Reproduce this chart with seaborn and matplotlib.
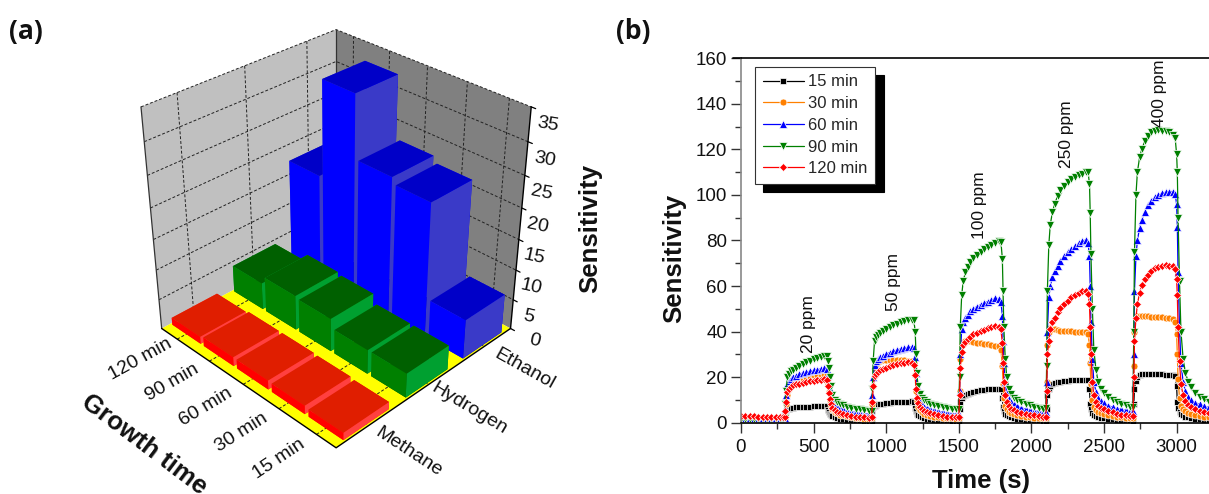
import matplotlib
matplotlib.use('Agg')
import matplotlib.pyplot as plt
import pandas as pd
import seaborn as sns
from mpl_toolkits.mplot3d.art3d import Poly3DCollection

# panel (a) values
growth = ['120 min', '90 min', '60 min', '30 min', '15 min']
gases = ['Methane', 'Hydrogen', 'Ethanol']
methane = [1.2, 1.5, 1.5, 1.4, 1.2]
hydrogen = [4.5, 5.8, 5.5, 4.0, 4.0]
ethanol = [17.5, 33.0, 23.0, 22.0, 6.5]
z_ticks = [0, 5, 10, 15, 20, 25, 30, 35]

# panel (b) values
labels = ['15 min', '30 min', '60 min', '90 min', '120 min']
base_time = [0, 30, 60, 90, 120, 150, 180, 210, 240, 270, 290]
pulse_starts = [300, 900, 1500, 2100, 2700]
offsets = [0, 5, 10, 20, 30, 45, 60, 80, 100, 125, 150, 175, 200, 225, 250, 275, 290,
           300, 305, 310, 320, 330, 345, 360, 380, 400, 430, 460, 490, 520, 550, 580]

s15 = [1.2, 1.2, 1.1, 1.1, 1.1, 1.0, 1.0, 1.0, 1.0, 1.0, 1.0,
       1, 3.5, 5, 5.8, 6.2, 6.4, 6.6, 6.8, 6.9, 7, 7.1, 7.1, 7.2, 7.2, 7.3, 7.3, 7.3,
       5.5, 4.5, 3.8, 3.2, 2.8, 2.4, 2.1, 1.8, 1.6, 1.4, 1.2, 1.1, 1, 0.9, 0.8,
       .8, 5, 6.8, 7.5, 7.8, 8, 8.2, 8.4, 8.6, 8.8, 8.9, 9, 9.1, 9.2, 9.3, 9.4, 9.3,
       6.5, 5, 4, 3.3, 2.8, 2.4, 2.1, 1.8, 1.6, 1.4, 1.2, 1.1, 1, .9, .8,
       .8, 6, 9, 10.8, 11.8, 12.3, 12.8, 13.2, 13.6, 14, 14.2, 14.4, 14.6, 14.7, 14.8, 14.9, 14.9,
       11, 7, 5.2, 4, 3.3, 2.8, 2.4, 2.1, 1.8, 1.6, 1.4, 1.2, 1.1, 1, .9,
       .8, 6, 12, 15, 16, 16.8, 17.3, 17.7, 18, 18.3, 18.5, 18.6, 18.7, 18.8, 18.9, 18.9, 18.8,
       15, 8, 5.8, 4.4, 3.6, 3, 2.6, 2.2, 1.9, 1.7, 1.5, 1.3, 1.2, 1.1, 1,
       .8, 8, 15, 18.5, 20, 20.8, 21.2, 21.4, 21.5, 21.5, 21.4, 21.3, 21.2, 21.1, 21, 21, 20.7,
       16, 9, 6.5, 4.8, 3.8, 3.2, 2.7, 2.3, 2, 1.8, 1.6, 1.4, 1.3, 1.2, 1]

s30 = [2.0, 2.0, 1.9, 1.9, 1.8, 1.8, 1.8, 1.7, 1.7, 1.7, 1.6,
       1.5, 4, 8, 12, 15, 16.5, 17.5, 18.3, 19, 19.5, 20, 20.4, 20.8, 21, 21.2, 21.2, 20.8,
       17, 13.5, 10, 7.5, 5.8, 4.8, 4.1, 3.6, 3.2, 2.8, 2.5, 2.2, 2, 1.8, 1.7,
       2, 8, 16, 23, 25.5, 26.5, 27, 27.4, 27.6, 27.7, 27.7, 27.6, 27.5, 27.4, 27.2, 27, 26.2,
       21, 14, 9.5, 7, 5.5, 4.6, 4, 3.5, 3.1, 2.7, 2.4, 2.2, 2, 1.9, 1.8,
       2, 14, 28, 34, 35.5, 36, 36, 35.8, 35.5, 35.2, 35, 34.7, 34.4, 34.1, 33.8, 33.5, 32,
       25, 17, 11, 7.5, 5.8, 4.8, 4.2, 3.7, 3.3, 2.9, 2.6, 2.4, 2.2, 2, 1.9,
       2, 18, 34, 40, 41.5, 41.3, 41, 40.7, 40.4, 40.3, 40.2, 40.1, 40, 40, 40, 39.9, 39,
       34, 26, 17, 10, 7, 5.5, 4.8, 4.2, 3.7, 3.2, 2.9, 2.6, 2.4, 2.2, 2,
       2, 25, 40, 46, 47, 47, 46.9, 46.8, 46.7, 46.5, 46.4, 46.3, 46.2, 46, 45.8, 45.5, 44,
       39, 30, 19, 11, 7.5, 6, 5, 4.4, 3.9, 3.4, 3, 2.7, 2.5, 2.3, 2.1]

s60 = [2.2, 2.2, 2.1, 2.1, 2.0, 2.0, 2.0, 1.9, 1.9, 1.9, 1.9,
       2, 6, 12, 17, 18.5, 19.3, 20, 20.7, 21.2, 21.8, 22.2, 22.6, 23, 23.3, 23.6, 23.8, 23.5,
       21, 18, 15, 12, 9.5, 8, 7, 6.3, 5.8, 5.2, 4.8, 4.5, 4.2, 4, 3.8,
       4, 12, 20, 25.5, 27, 28, 28.8, 29.5, 30.2, 30.8, 31.4, 31.9, 32.4, 32.8, 33.1, 33.2, 33,
       29, 22, 16, 12, 9.5, 8, 7, 6.5, 6, 5.4, 5, 4.6, 4.3, 4, 3.8,
       4, 14, 30, 41, 44, 46, 47.5, 49, 50, 51, 51.8, 52.5, 53.2, 54, 54.6, 54.5, 53,
       47, 36, 26, 18, 13, 10.5, 9, 8, 7.3, 6.5, 6, 5.6, 5.2, 4.9, 4.6,
       4.5, 18, 40, 55, 60, 64, 66.5, 69, 71, 73, 74.8, 76.2, 77.5, 78.8, 79.8, 80.2, 79,
       73, 60, 44, 28, 18, 13.5, 11, 9.5, 8.5, 7.5, 6.8, 6.2, 5.8, 5.4, 5,
       5, 30, 58, 73, 80, 85.5, 89, 92.5, 95.5, 97.5, 99, 100, 100.8, 101.2, 101.5, 101.5, 100.5,
       96, 86, 66, 42, 26, 18, 14, 11.5, 10, 8.8, 8, 7.3, 6.7, 6.2, 5.8]

s90 = [1.8, 1.8, 1.7, 1.7, 1.6, 1.6, 1.6, 1.5, 1.5, 1.5, 1.5,
       2, 8, 14, 20, 21.5, 22.5, 23.3, 24.2, 25, 25.8, 26.6, 27.2, 27.8, 28.3, 28.8, 29.1, 29.1,
       27, 24, 20, 16, 12, 10, 9, 8.2, 7.6, 7, 6.6, 6.2, 5.8, 5.5, 5.3,
       5, 15, 27, 36, 37.5, 38.5, 39.3, 40.3, 41.2, 42, 42.8, 43.5, 44, 44.6, 45, 45.2, 45,
       40, 30, 22, 16, 12.5, 11, 10, 9, 8.4, 7.7, 7.2, 6.8, 6.4, 6, 5.8,
       6, 20, 42, 56, 62, 66, 68.5, 70.5, 72.3, 73.8, 75, 76.2, 77.2, 78.2, 79, 79.8, 79.5,
       72, 58, 42, 28, 20, 15, 12.5, 11, 10, 9, 8.2, 7.6, 7, 6.6, 6.2,
       6.5, 25, 58, 78, 87, 92.5, 96, 99.5, 102, 104, 105.5, 106.8, 107.8, 108.6, 109.3, 110, 110,
       105, 92, 74, 50, 32, 23, 18, 15, 13, 11.3, 10, 9, 8.2, 7.6, 7,
       7, 40, 75, 100, 110, 116.5, 120, 123.5, 126, 127.5, 128.2, 128.3, 128.2, 128, 127.5, 126.5, 125,
       118, 110, 90, 62, 40, 28, 22, 18, 15.5, 13, 11.5, 10.2, 9.2, 8.4, 7.8]

s120 = [3.0, 2.9, 2.8, 2.8, 2.7, 2.7, 2.6, 2.6, 2.5, 2.5, 2.5,
        2.5, 5, 9, 13.5, 15, 15.8, 16.4, 16.8, 17.2, 17.6, 17.9, 18.2, 18.5, 18.7, 18.9, 19, 18.8,
        16, 13, 10.5, 8, 6.5, 5.5, 4.8, 4.2, 3.8, 3.4, 3, 2.7, 2.5, 2.3, 2.1,
        2.5, 9, 16, 20.5, 21.5, 22.3, 23, 23.6, 24.2, 24.8, 25.2, 25.7, 26.1, 26.4, 26.5, 26.3, 25.5,
        21, 15, 11, 8.5, 7, 6, 5.3, 4.7, 4.2, 3.7, 3.3, 3, 2.7, 2.5, 2.3,
        2.5, 12, 24, 31, 34, 35.5, 36.8, 37.8, 38.8, 39.6, 40.3, 40.9, 41.4, 42, 42.3, 42.2, 41,
        35, 26, 18, 12, 9, 7.2, 6.2, 5.5, 4.9, 4.3, 3.9, 3.5, 3.2, 2.9, 2.7,
        2.5, 14, 30, 36, 41, 44, 46, 48.5, 50.5, 52, 53.5, 55, 56, 57, 57.8, 58, 56.5,
        52, 42, 30, 18, 12, 9, 7.5, 6.5, 5.8, 5, 4.5, 4, 3.6, 3.3, 3,
        3, 20, 36, 46, 52, 57, 60.5, 63, 65, 66.5, 67.8, 68.5, 69, 69.2, 69, 68.7, 67.5,
        63, 56, 42, 27, 17, 12, 9.5, 7.8, 6.8, 5.8, 5.2, 4.6, 4.2, 3.9, 3.6]

ppm_labels = ['20 ppm', '50 ppm', '100 ppm', '250 ppm', '400 ppm']
ppm_x = [468, 1047, 1646, 2245, 2879]
ppm_y = [43.4, 61.8, 95.6, 126.8, 144.5]

sns.set_theme(style='white')
plt.rcParams['font.family'] = ['Liberation Sans', 'DejaVu Sans']

fig = plt.figure(figsize=(12.09, 4.94), dpi=100)
W, H = 1209, 494

# ---- panel (a): 3D bars
ax3 = fig.add_axes([28 / W, 1 - 532 / H, 600 / W, 600 / H], projection='3d', computed_zorder=False)
ax3.set_axis_off()
ax3.patch.set_alpha(0)
ax3.set_xlim(0, 5)
ax3.set_ylim(0, 3)
ztop = 35
ax3.set_zlim(0, ztop)
ax3.set_proj_type('persp', focal_length=0.38)
ax3.view_init(elev=32, azim=-45)
ax3.set_box_aspect((1, 1, 1.0), zoom=0.73)

walls = [
    ([[0, 0, 0], [0, 3, 0], [0, 3, ztop], [0, 0, ztop]], '#c0c0c0'),
    ([[0, 3, 0], [5, 3, 0], [5, 3, ztop], [0, 3, ztop]], '#808080'),
    ([[0, 0, 0], [5, 0, 0], [5, 3, 0], [0, 3, 0]], '#ffff00'),
]
for verts, col in walls:
    pc = Poly3DCollection([verts], facecolors=col, edgecolors='none', zorder=1)
    ax3.add_collection3d(pc, autolim=False)

grid_kw = dict(color='#222222', lw=0.7, ls=(0, (3, 2)), zorder=2)
for z in z_ticks[1:]:
    ax3.plot([0, 0, 5], [0, 3, 3], [z, z, z], **grid_kw)
for i in range(5):
    ax3.plot([i + .5, i + .5, i + .5], [0, 3, 3], [0, 0, ztop], **grid_kw)
for j in range(3):
    ax3.plot([0, 0, 5], [j + .5, j + .5, j + .5], [ztop, 0, 0], **grid_kw)

edge_kw = dict(color='#333333', lw=0.9, zorder=2)
ax3.plot([0, 0], [0, 0], [0, ztop], **edge_kw)
ax3.plot([0, 0], [3, 3], [0, ztop], **edge_kw)
ax3.plot([5, 5], [3, 3], [0, ztop], color='black', lw=1.0, zorder=2)
ax3.plot([0, 5, 5], [0, 0, 3], [0, 0, 0], color='black', lw=1.0, zorder=2)
for z in z_ticks:
    ax3.plot([5, 5.1], [3, 3], [z, z], color='black', lw=0.9, zorder=2)

faces = {
    'Methane': ['#ff2000', '#e01e00', '#ff0000', '#ff0000', '#ff4040', '#ff4040'],
    'Hydrogen': ['#006000', '#006000', '#008000', '#008000', '#00a030', '#00a030'],
    'Ethanol': ['#0000c8', '#0000c8', '#0000ff', '#0000ff', '#3a3ac8', '#3a3ac8'],
}
rows = [(2, 'Ethanol', ethanol), (1, 'Hydrogen', hydrogen), (0, 'Methane', methane)]
order = 3
for j, name, vals in rows:
    for i, v in enumerate(vals):
        ax3.bar3d(i + .05, j + .14, 0, .9, .72, v, color=faces[name], shade=False, zorder=order,
                  edgecolor='none', linewidth=0)
        order += 1

for i, lab in enumerate(growth):
    ax3.text(i + .5, -0.55, 0, lab, zdir=(0, 1, 0), ha='center', va='center', fontsize=14, color='#111111', zorder=40)
for j, lab in enumerate(gases):
    ax3.text(6.0, j + .5, 0, lab, zdir=(1, 0, 0), ha='center', va='center', fontsize=14, color='#111111', zorder=40)
for z in z_ticks:
    # the zero label sits lower along the floor edge, the others just below their tick
    if z == 0:
        ax3.text(5.6, 3, 0, '0', zdir=(1, 0.25, 0), ha='center', va='center', fontsize=14, color='#111111', zorder=40)
    else:
        ax3.text(5.4, 3, z - 1.5, str(z), zdir=(1, 0.25, 0), ha='center', va='center', fontsize=14, color='#111111', zorder=40)

fig.text(144 / W, 1 - 445 / H, 'Growth time', rotation=-37, ha='center', va='center', fontsize=18.5, fontweight='bold', color='#111111')
fig.text(590 / W, 1 - 228 / H, 'Sensitivity', rotation=90, ha='center', va='center', fontsize=18.5, fontweight='bold', color='#111111')
fig.text(9 / W, 1 - 31 / H, '(a)', ha='left', va='center', fontsize=19, fontweight='bold', family='Open Sans', color='#111111')
fig.text(616 / W, 1 - 31 / H, '(b)', ha='left', va='center', fontsize=19, fontweight='bold', family='Open Sans', color='#111111')

# ---- panel (b): response curves
time = base_time + [s + o for s in pulse_starts for o in offsets]
df = pd.DataFrame({
    'time': time * 5,
    'value': s15 + s30 + s60 + s90 + s120,
    'series': [lab for lab in labels for _ in time],
})
palette = dict(zip(labels, ['black', '#ff8000', '#0000ff', '#008000', '#ff0000']))
marks = dict(zip(labels, ['s', 'o', '^', 'v', 'D']))

x0, x1 = 741, 1209
y0, y1 = 422.7, 58.3
ax = fig.add_axes([x0 / W, 1 - y0 / H, (x1 - x0) / W, (y0 - y1) / H])
sns.lineplot(data=df, x='time', y='value', hue='series', style='series', hue_order=labels, style_order=labels,
             palette=palette, markers=marks, dashes=False, estimator=None, sort=False,
             lw=0.9, markersize=5, markeredgewidth=0.5, ax=ax)
sizes = {'s': 4, 'o': 5, '^': 6, 'v': 6, 'D': 4.5}
for line in ax.lines:
    if line.get_marker() in sizes:
        line.set_markersize(sizes[line.get_marker()])
ax.set_xlim(0, (x1 - x0) / 72.6 * 500)
ax.set_ylim(0, 160)
ax.set_xticks([0, 500, 1000, 1500, 2000, 2500, 3000])
ax.set_xticks([250, 750, 1250, 1750, 2250, 2750], minor=True)
ax.set_yticks(range(0, 161, 20))
ax.set_yticks(range(10, 160, 20), minor=True)
ax.tick_params(axis='both', which='major', direction='out', length=7, width=1, labelsize=13.5, color='#333333',
               left=True, bottom=True, pad=3, labelcolor='#111111')
ax.tick_params(axis='x', which='major', pad=5)
ax.tick_params(axis='both', which='minor', direction='out', length=4, width=1, color='#333333', left=True, bottom=True)
ax.spines['right'].set_visible(False)
ax.spines['left'].set_color('#888888')
ax.spines['left'].set_linewidth(1.2)
ax.spines['bottom'].set_color('black')
ax.spines['bottom'].set_linewidth(1.2)
ax.spines['top'].set_color('black')
ax.spines['top'].set_linewidth(1.2)
ax.plot([-0.018, 0], [1, 1], transform=ax.transAxes, color='black', lw=1.2, clip_on=False)
ax.set_xlabel('Time (s)', fontsize=18.5, fontweight='bold', labelpad=9, color='#111111', x=0.513)
ax.set_ylabel('Sensitivity', fontsize=18.5, fontweight='bold', labelpad=7, color='#111111', y=0.452)

for lab, px, py in zip(ppm_labels, ppm_x, ppm_y):
    ax.text(px, py, lab, rotation=90, ha='center', va='center', fontsize=12.5, color='#111111', clip_on=False)

leg = ax.legend(loc='upper left', bbox_to_anchor=((755 - x0) / (x1 - x0), 1 - (67 - y1) / (y0 - y1)),
                fontsize=12, frameon=True, fancybox=False, edgecolor='#333333', framealpha=1,
                handlelength=2.5, handletextpad=0.25, labelspacing=0.4, borderpad=0.45, borderaxespad=0,
                numpoints=1, shadow={'color': 'black', 'alpha': 1, 'ox': 6, 'oy': -6})
leg.get_frame().set_linewidth(0.8)

fig.savefig('out.png', dpi=100)
